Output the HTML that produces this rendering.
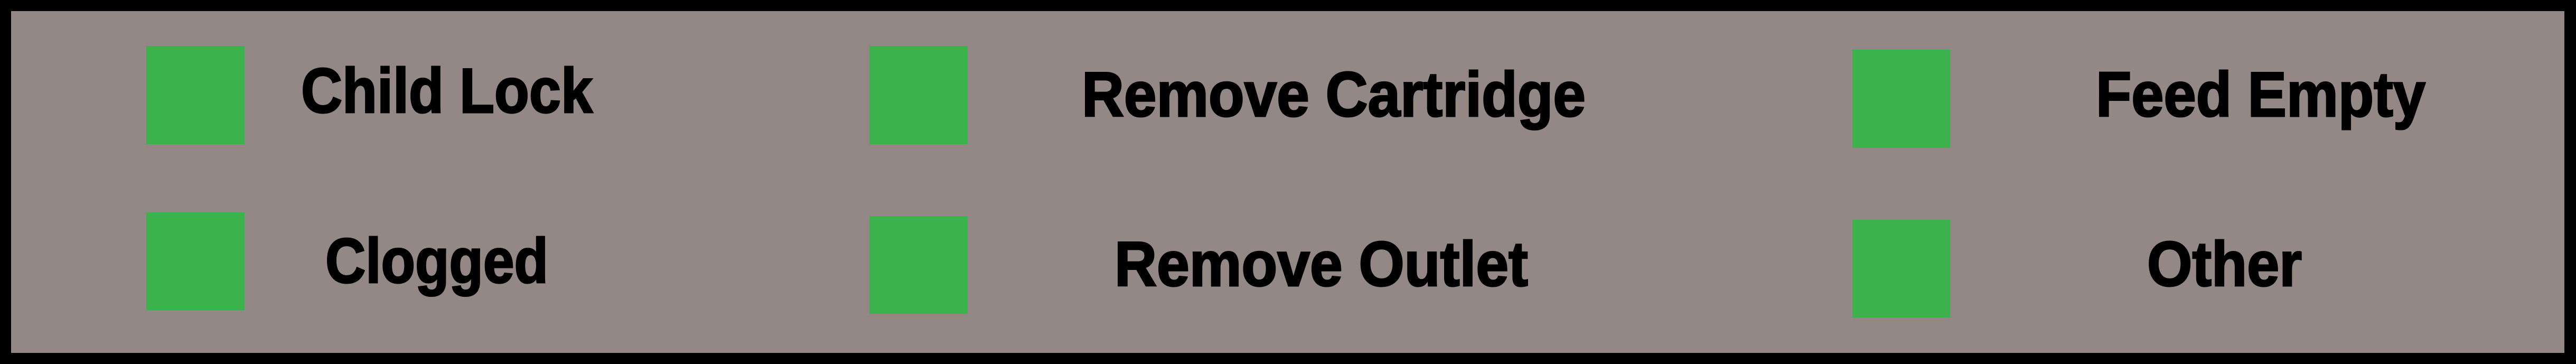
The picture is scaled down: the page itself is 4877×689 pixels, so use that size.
<!DOCTYPE html>
<html><head><meta charset="utf-8"><style>
html,body{margin:0;padding:0;background:#000;}
svg{display:block;}
text{font-family:"Liberation Sans",sans-serif;font-weight:bold;font-size:120px;fill:#000;stroke:#000;stroke-width:3px;}
</style></head><body>
<svg width="4877" height="689" viewBox="0 0 4877 689" xmlns="http://www.w3.org/2000/svg">
<rect x="0" y="0" width="4877" height="689" fill="#000"/>
<rect x="21" y="21" width="4834" height="647" fill="#948886"/>
<g fill="#3bb34a">
<rect x="277" y="87" width="186" height="186"/>
<rect x="277" y="402" width="186" height="185"/>
<rect x="1646" y="87" width="186" height="186"/>
<rect x="1646" y="409" width="186" height="185"/>
<rect x="3507" y="94" width="185" height="186"/>
<rect x="3507" y="416" width="185" height="185"/>
</g>
<text x="570" y="213" textLength="552" lengthAdjust="spacingAndGlyphs">Child Lock</text>
<text x="616" y="535" textLength="422" lengthAdjust="spacingAndGlyphs">Clogged</text>
<text x="2048" y="220" textLength="954" lengthAdjust="spacingAndGlyphs">Remove Cartridge</text>
<text x="2110" y="541" textLength="783" lengthAdjust="spacingAndGlyphs">Remove Outlet</text>
<text x="3968" y="220" textLength="624" lengthAdjust="spacingAndGlyphs">Feed Empty</text>
<text x="4065" y="541" textLength="293" lengthAdjust="spacingAndGlyphs">Other</text>
</svg>
</body></html>
